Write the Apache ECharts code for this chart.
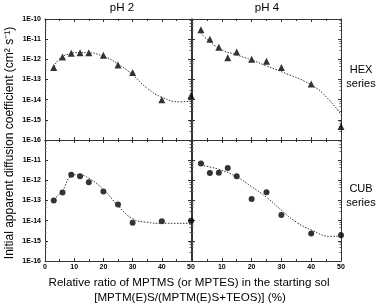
<!DOCTYPE html>
<html><head><meta charset="utf-8">
<script src="https://cdn.jsdelivr.net/npm/echarts@6/dist/echarts.min.js"></script>
<style>html,body{margin:0;padding:0;background:#fff}#c{width:378px;height:305px}</style>
</head><body><div id="c"></div>
<script>
// Data
var ratios = [3, 6, 9, 12, 15, 20, 25, 30, 40, 50];
var hexPH2 = [3.9e-13, 1.3e-12, 2.0e-12, 2.1e-12, 2.1e-12, 1.6e-12, 5.3e-13, 2.2e-13, 1.0e-14, 1.6e-14];
var hexPH4 = [2.9e-11, 1.0e-11, 4.0e-12, 1.2e-12, 2.3e-12, 1.0e-12, 8.0e-13, 3.9e-13, 6.0e-14, 4.7e-16];
var cubPH2 = [1.0e-13, 2.5e-13, 1.9e-12, 1.6e-12, 8.0e-13, 2.8e-13, 6.3e-14, 7.8e-15, 9.3e-15, 9.8e-15];
var cubPH4 = [6.8e-12, 2.3e-12, 2.4e-12, 4.1e-12, 1.6e-12, 1.2e-13, 2.6e-13, 1.9e-14, 2.3e-15, 1.9e-15];

// Dotted guide curves
var fitHexPH2X = [3, 5.5, 8.6, 11, 14.5, 20, 25, 30, 35, 40, 46.5, 50];
var fitHexPH2Y = [4.4e-13, 1.23e-12, 1.9e-12, 2.19e-12, 2.14e-12, 1.41e-12, 5.9e-13, 1.7e-13, 3.7e-14, 1.32e-14, 7.8e-15, 8.5e-15];
var fitHexPH4X = [3, 9, 15, 20, 25, 30, 40, 45.5, 50];
var fitHexPH4Y = [1.95e-11, 3.5e-12, 1.66e-12, 9.3e-13, 4.7e-13, 2.45e-13, 5.4e-14, 1.17e-14, 1.8e-15];
var fitCubPH2X = [3, 6, 9, 11.5, 15, 20, 25, 30, 35, 40, 50];
var fitCubPH2Y = [1.12e-13, 3.2e-13, 1.62e-12, 1.9e-12, 1.26e-12, 3.5e-13, 5.6e-14, 1.26e-14, 8.3e-15, 7.4e-15, 7.4e-15];
var fitCubPH4X = [3, 9, 15, 20, 25, 30, 35, 40, 46.5, 50];
var fitCubPH4Y = [5.6e-12, 3.5e-12, 1.48e-12, 4.8e-13, 1.45e-13, 3.3e-14, 8.5e-15, 3.5e-15, 1.66e-15, 1.74e-15];

var panelTitles = ['pH 2', 'pH 4'];
var rowTitles = [['HEX', 'series'], ['CUB', 'series']];
var yTitle = 'Initial apparent diffusion coefficient (cm\u00B2 s\u207B\u00B9)';
var xTitle1 = 'Relative ratio of MPTMS (or MPTES) in the starting sol';
var xTitle2 = '[MPTM(E)S/(MPTM(E)S+TEOS)] (%)';

function zip(xs, ys) { return xs.map(function (x, i) { return [x, ys[i]]; }); }

var FONT = 'Liberation Sans, Arial, sans-serif';
var AX = '#333';
var grids = [
  {left: 45, top: 19, width: 146, height: 121},
  {left: 192, top: 19, width: 149, height: 121},
  {left: 45, top: 140, width: 146, height: 121},
  {left: 192, top: 140, width: 149, height: 121}
];

var xAxes = [], yAxes = [];
function xAx(g, pos, showLabel, hideMin) {
  return {type: 'value', gridIndex: g, min: 0, max: 50, interval: 10, position: pos,
    axisLine: {show: true, onZero: false, lineStyle: {color: AX, width: 1}},
    axisTick: {show: true, inside: true, length: 3, lineStyle: {color: AX}},
    minorTick: {show: true, splitNumber: 2, length: 2, lineStyle: {color: AX}},
    splitLine: {show: false},
    axisLabel: {show: showLabel, fontSize: 7, fontWeight: 'bold', color: '#000', margin: 3,
      fontFamily: FONT, showMinLabel: !hideMin}};
}
function yAx(g, pos, showLabel, hideMax) {
  return {type: 'log', logBase: 10, gridIndex: g, min: 1e-16, max: 1e-10, position: pos,
    axisLine: {show: true, onZero: false, lineStyle: {color: AX, width: 1}},
    axisTick: {show: true, inside: true, length: 3, lineStyle: {color: AX}},
    minorTick: {show: true, splitNumber: 5, length: 1.5, lineStyle: {color: '#666'}},
    splitLine: {show: false},
    axisLabel: {show: showLabel, fontSize: 7, fontWeight: 'bold', color: '#000', margin: 4,
      fontFamily: FONT, showMaxLabel: !hideMax,
      formatter: function (v) { return '1E' + Math.round(Math.log10(v)); }}};
}
for (var g = 0; g < 4; g++) {
  var bottomRow = g >= 2, leftCol = g % 2 === 0;
  xAxes.push(xAx(g, 'bottom', bottomRow, !leftCol));
  xAxes.push(xAx(g, 'top', false, false));
  yAxes.push(yAx(g, 'left', leftCol, bottomRow));
  yAxes.push(yAx(g, 'right', false, false));
}

var pts = [hexPH2, hexPH4, cubPH2, cubPH4];
var fitsX = [fitHexPH2X, fitHexPH4X, fitCubPH2X, fitCubPH4X];
var fitsY = [fitHexPH2Y, fitHexPH4Y, fitCubPH2Y, fitCubPH4Y];
var series = [];
for (var i = 0; i < 4; i++) {
  series.push({type: 'line', xAxisIndex: i * 2, yAxisIndex: i * 2, data: zip(fitsX[i], fitsY[i]),
    smooth: 0.5, symbol: 'none', silent: true,
    lineStyle: {type: [1.5, 1.5], color: '#333', width: 1}});
  series.push({type: 'scatter', xAxisIndex: i * 2, yAxisIndex: i * 2, data: zip(ratios, pts[i]),
    symbol: i < 2 ? 'triangle' : 'circle', symbolSize: i < 2 ? 7 : 6,
    itemStyle: {color: '#000'}});
}

var txt = function (x, y, t, size, extra) {
  var s = {text: t, x: 0, y: 0, fill: '#000', font: size + 'px ' + FONT, textAlign: 'center', textVerticalAlign: 'middle'};
  var o = {type: 'text', x: x, y: y, style: s};
  if (extra) for (var k in extra) o[k] = extra[k];
  return o;
};
var graphics = [
  txt(122, 8, panelTitles[0], 11.5),
  txt(267, 8, panelTitles[1], 11.5),
  txt(361, 70, rowTitles[0][0], 11),
  txt(361, 84, rowTitles[0][1], 11),
  txt(361, 189, rowTitles[1][0], 11),
  txt(361, 203, rowTitles[1][1], 11),
  txt(189, 283, xTitle1, 11.6),
  txt(190, 298, xTitle2, 11.6),
  txt(10, 143, yTitle, 12, {rotation: Math.PI / 2})
];

var chart = echarts.init(document.getElementById('c'), null, {renderer: 'canvas'});
chart.setOption({
  animation: false,
  backgroundColor: '#fff',
  grid: grids,
  xAxis: xAxes,
  yAxis: yAxes,
  series: series,
  graphic: graphics
});
</script></body></html>
